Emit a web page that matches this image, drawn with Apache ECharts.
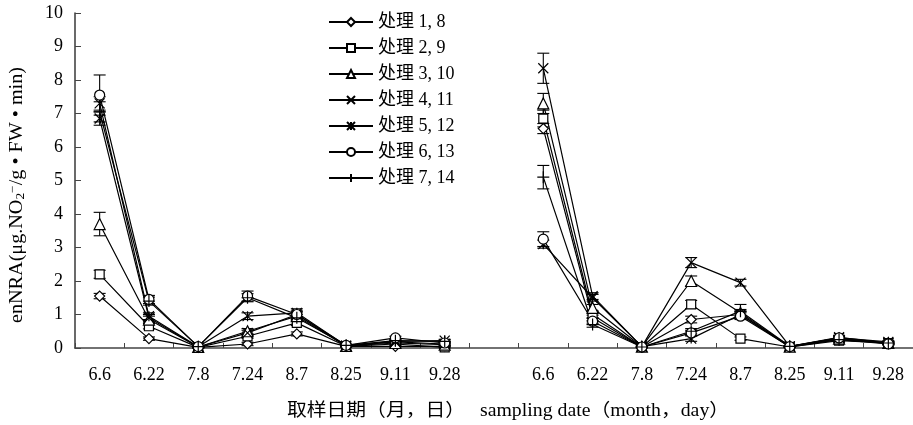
<!DOCTYPE html>
<html>
<head>
<meta charset="utf-8">
<script src="https://cdn.jsdelivr.net/npm/echarts@6/dist/echarts.min.js"></script>
<style>
  html, body { margin: 0; padding: 0; background: #fff; }
  #chart { width: 913px; height: 425px; }
</style>
</head>
<body>
<div id="chart"></div>
<script>
// Sampling dates: two seasons of eight dates, separated by one empty slot
const dates = ['6.6', '6.22', '7.8', '7.24', '8.7', '8.25', '9.11', '9.28',
               '',
               '6.6', '6.22', '7.8', '7.24', '8.7', '8.25', '9.11', '9.28'];

const seriesNames = ['处理 1, 8', '处理 2, 9', '处理 3, 10', '处理 4, 11',
                     '处理 5, 12', '处理 6, 13', '处理 7, 14'];

// enNRA means (first group of eight, gap, second group of eight)
const t1 = [1.55, 0.28, 0.02, 0.12, 0.42, 0.05, 0.05, 0.05, null, 6.55, 0.90, 0.03, 0.85, 1.00, 0.03, 0.25, 0.12];
const t2 = [2.20, 0.65, 0.02, 0.35, 0.75, 0.05, 0.12, 0.02, null, 6.85, 1.00, 0.03, 1.30, 0.28, 0.03, 0.22, 0.15];
const t3 = [3.70, 0.85, 0.03, 0.50, 0.95, 0.06, 0.15, 0.10, null, 7.30, 1.20, 0.04, 2.00, 1.05, 0.04, 0.28, 0.15];
const t4 = [6.85, 0.90, 0.03, 0.45, 1.00, 0.06, 0.18, 0.12, null, 8.35, 1.55, 0.04, 2.55, 1.95, 0.05, 0.30, 0.18];
const t5 = [7.30, 0.95, 0.04, 0.95, 1.05, 0.07, 0.20, 0.22, null, 3.10, 1.50, 0.04, 0.28, 1.00, 0.05, 0.32, 0.15];
const t6 = [7.55, 1.45, 0.04, 1.55, 1.00, 0.08, 0.30, 0.15, null, 3.25, 0.80, 0.03, 0.45, 0.95, 0.04, 0.30, 0.12];
const t7 = [7.05, 1.40, 0.04, 1.50, 0.90, 0.08, 0.22, 0.20, null, 5.10, 0.70, 0.03, 0.50, 1.10, 0.05, 0.25, 0.15];

// Standard errors (±)
const e1 = [0.08, 0.05, 0.02, 0.05, 0.06, 0.02, 0.02, 0.02, null, 0.15, 0.08, 0.02, 0.10, 0.08, 0.02, 0.05, 0.03];
const e2 = [0.12, 0.08, 0.02, 0.06, 0.08, 0.02, 0.03, 0.02, null, 0.25, 0.10, 0.02, 0.12, 0.05, 0.02, 0.05, 0.03];
const e3 = [0.35, 0.10, 0.02, 0.08, 0.10, 0.02, 0.03, 0.03, null, 0.30, 0.10, 0.02, 0.15, 0.10, 0.02, 0.05, 0.03];
const e4 = [0.20, 0.10, 0.02, 0.08, 0.10, 0.02, 0.03, 0.03, null, 0.45, 0.10, 0.02, 0.15, 0.10, 0.02, 0.06, 0.04];
const e5 = [0.20, 0.10, 0.02, 0.10, 0.12, 0.03, 0.03, 0.04, null, 0.12, 0.10, 0.02, 0.08, 0.10, 0.02, 0.06, 0.04];
const e6 = [0.60, 0.12, 0.02, 0.15, 0.10, 0.03, 0.05, 0.04, null, 0.22, 0.08, 0.02, 0.08, 0.10, 0.02, 0.05, 0.03];
const e7 = [0.30, 0.12, 0.02, 0.12, 0.10, 0.03, 0.04, 0.04, null, 0.35, 0.08, 0.02, 0.08, 0.20, 0.02, 0.05, 0.03];

const means = [t1, t2, t3, t4, t5, t6, t7];
const errors = [e1, e2, e3, e4, e5, e6, e7];

const symbols = [
  'diamond',
  'rect',
  'triangle',
  'path://M0,0L10,10M10,0L0,10',              // cross
  'path://M0,0L10,10M10,0L0,10M5,0L5,10',     // asterisk
  'circle',
  'path://M0,5L10,5M5,0L5,10'                 // plus
];
const symbolSizes = [10, 9, 11, 10, 10, 10, 12];

const serif = '"Liberation Serif", "Noto Sans CJK SC", serif';

const lineSeries = seriesNames.map((name, i) => ({
  name: name,
  type: 'line',
  data: means[i],
  symbol: symbols[i],
  symbolSize: symbolSizes[i],
  showAllSymbol: true,
  connectNulls: false,
  lineStyle: { color: '#000', width: 1.2 },
  itemStyle: { color: '#fff', borderColor: '#000', borderWidth: 1.2 },
  z: 3
}));

// Error bars: one custom series drawing a vertical whisker with caps
const errData = [];
means.forEach((arr, s) => {
  arr.forEach((v, k) => {
    if (v !== null && errors[s][k] !== null) {
      errData.push([k, v - errors[s][k], v + errors[s][k]]);
    }
  });
});

const errorSeries = {
  type: 'custom',
  name: 'err',
  data: errData,
  z: 2,
  silent: true,
  renderItem: function (params, api) {
    const x = api.value(0);
    const lo = api.coord([x, Math.max(0, api.value(1))]);
    const hi = api.coord([x, api.value(2)]);
    const w = 6;
    const style = { stroke: '#000', lineWidth: 1.1 };
    return {
      type: 'group',
      children: [
        { type: 'line', shape: { x1: hi[0], y1: hi[1], x2: lo[0], y2: lo[1] }, style: style },
        { type: 'line', shape: { x1: hi[0] - w, y1: hi[1], x2: hi[0] + w, y2: hi[1] }, style: style },
        { type: 'line', shape: { x1: lo[0] - w, y1: lo[1], x2: lo[0] + w, y2: lo[1] }, style: style }
      ]
    };
  }
};

const chart = echarts.init(document.getElementById('chart'), null, { renderer: 'canvas' });

chart.setOption({
  animation: false,
  backgroundColor: '#fff',
  grid: { left: 75, top: 13, width: 843, height: 335, containLabel: false },
  legend: {
    data: seriesNames,
    orient: 'vertical',
    left: 323,
    top: 8,
    itemWidth: 44,
    itemHeight: 10,
    itemGap: 8,
    textStyle: { fontFamily: serif, fontSize: 18, color: '#000' }
  },
  xAxis: {
    type: 'category',
    data: dates,
    boundaryGap: true,
    axisLine: { lineStyle: { color: '#444', width: 1.6 } },
    axisTick: { show: true, inside: true, length: 5, interval: 0, lineStyle: { color: '#444' } },
    axisLabel: { interval: 0, margin: 18, fontFamily: serif, fontSize: 18, color: '#000' },
    splitLine: { show: false }
  },
  yAxis: {
    type: 'value',
    min: 0,
    max: 10,
    interval: 1,
    axisLine: { show: true, lineStyle: { color: '#444', width: 1.6 } },
    axisTick: { show: true, inside: true, length: 6, lineStyle: { color: '#444' } },
    axisLabel: { margin: 12, fontFamily: serif, fontSize: 18, color: '#000' },
    splitLine: { show: false }
  },
  graphic: [
    {
      // vertical axis title
      type: 'text',
      x: 17,
      y: 195,
      rotation: Math.PI / 2,
      scaleX: 1.12,
      style: {
        text: '{n|enNRA(μg.NO}{sub|2}{sup|−}{n|/g • FW • min)}',
        align: 'center',
        verticalAlign: 'middle',
        fill: '#000',
        rich: {
          n: { fontFamily: serif, fontSize: 18, fill: '#000' },
          sub: { fontFamily: serif, fontSize: 12, fill: '#000', padding: [8, 0, 0, 0] },
          sup: { fontFamily: serif, fontSize: 12, fill: '#000', padding: [0, 0, 8, 0] }
        }
      }
    },
    {
      // horizontal axis title
      type: 'text',
      x: 508,
      y: 411,
      scaleX: 1.1,
      style: {
        text: '取样日期（月，日）   sampling date（month，day）',
        font: '18px "Liberation Serif", "Noto Sans CJK SC", serif',
        align: 'center',
        verticalAlign: 'middle',
        fill: '#000'
      }
    }
  ],
  series: [errorSeries].concat(lineSeries)
});
</script>
</body>
</html>
